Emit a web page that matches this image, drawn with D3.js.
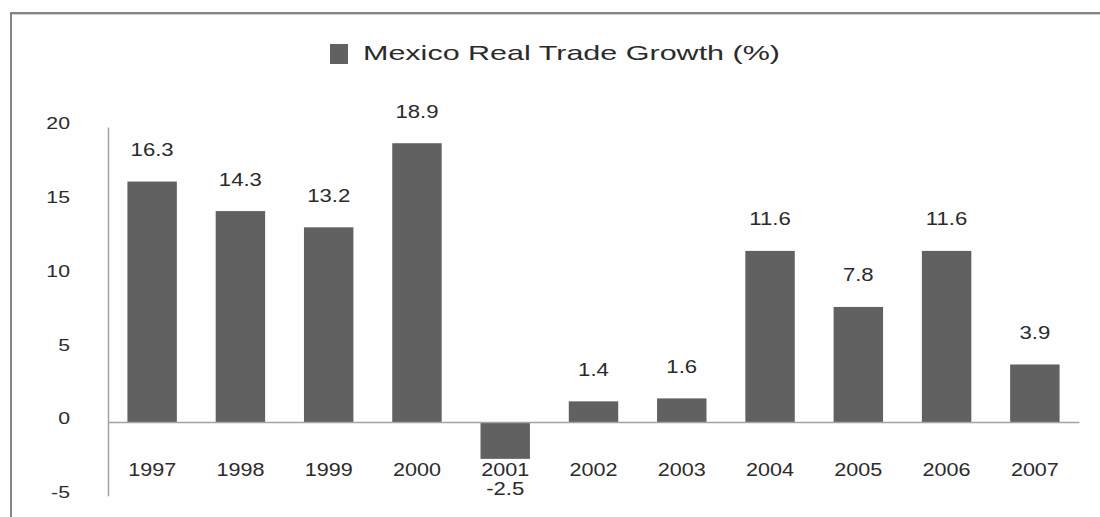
<!DOCTYPE html>
<html>
<head>
<meta charset="utf-8">
<script src="https://cdn.jsdelivr.net/npm/d3@7"></script>
<style>
  html, body { margin: 0; padding: 0; background: #fefefe; }
  svg { display: block; }
  text { font-family: "Liberation Sans", Arial, sans-serif; fill: #2b2b2b; }
</style>
</head>
<body>
<svg id="chart" width="1100" height="517"></svg>
<script>
// Mexico real trade growth, annual %
const years = ["1997", "1998", "1999", "2000", "2001", "2002", "2003", "2004", "2005", "2006", "2007"];
const growth = [16.3, 14.3, 13.2, 18.9, -2.5, 1.4, 1.6, 11.6, 7.8, 11.6, 3.9];
const yTicks = [-5, 0, 5, 10, 15, 20];
const seriesName = "Mexico Real Trade Growth (%)";

const W = 1100, H = 517;
const barColor = "#616161";
const axisColor = "#a3a3a3";
const textColor = "#2b2b2b";

const svg = d3.select("#chart");

// widen text horizontally to the given factor of its natural width
function stretch(sel, factor) {
  sel.each(function () {
    const len = this.getComputedTextLength();
    d3.select(this).attr("textLength", len * factor).attr("lengthAdjust", "spacingAndGlyphs");
  });
}

// outer frame (top and left edges)
svg.append("line").attr("x1", 10).attr("x2", W).attr("y1", 13).attr("y2", 13)
  .attr("stroke", "#858585").attr("stroke-width", 2);
svg.append("line").attr("x1", 10).attr("x2", W).attr("y1", 14.5).attr("y2", 14.5)
  .attr("stroke", "#d0d0d0").attr("stroke-width", 1);
svg.append("line").attr("x1", 11).attr("x2", 11).attr("y1", 12).attr("y2", H)
  .attr("stroke", "#858585").attr("stroke-width", 2);

const x = d3.scaleBand().domain(years).range([108, 1079]).paddingInner(0.44).paddingOuter(0.22);
const y = d3.scaleLinear().domain([-5, 20]).range([495.75, 127]);

// legend / title
svg.append("rect").attr("x", 330).attr("y", 44).attr("width", 18).attr("height", 20).attr("fill", barColor);
svg.append("text").attr("x", 363).attr("y", 59.5).attr("font-size", 21)
  .attr("textLength", 417).attr("lengthAdjust", "spacingAndGlyphs")
  .attr("fill", "#1c1c1c")
  .text(seriesName);

// bars
svg.append("g").selectAll("rect").data(growth).join("rect")
  .attr("x", (d, i) => x(years[i]))
  .attr("width", x.bandwidth())
  .attr("y", d => y(Math.max(0, d)))
  .attr("height", d => Math.abs(y(d) - y(0)))
  .attr("fill", barColor);

// y axis
const yAxis = svg.append("g").attr("transform", "translate(108,0)")
  .call(d3.axisLeft(y).tickValues(yTicks).tickSize(0).tickSizeOuter(0).tickPadding(38).tickFormat(d => String(d)));
yAxis.select(".domain").attr("stroke", axisColor).attr("stroke-width", 1.5);
yAxis.selectAll("text").attr("font-size", 17).attr("fill", textColor)
  .attr("font-family", "Liberation Sans, Arial, sans-serif")
  .attr("y", -4).attr("dy", "0.35em");
stretch(yAxis.selectAll("text"), 1.25);

// x axis along the zero line
const xAxis = svg.append("g").attr("transform", `translate(0,${y(0)})`)
  .call(d3.axisBottom(x).tickSize(0).tickSizeOuter(0).tickPadding(40.5));
xAxis.select(".domain").attr("stroke", axisColor).attr("stroke-width", 1.5);
xAxis.selectAll("text").attr("font-size", 18.6).attr("fill", textColor)
  .attr("font-family", "Liberation Sans, Arial, sans-serif");
stretch(xAxis.selectAll("text"), 1.16);

// value labels
const labels = svg.append("g").selectAll("text").data(growth).join("text")
  .attr("x", (d, i) => x(years[i]) + x.bandwidth() / 2)
  .attr("y", d => d >= 0 ? y(d) - 25.5 : y(d) + 36)
  .attr("text-anchor", "middle")
  .attr("font-size", 18.6)
  .attr("fill", textColor)
  .text(d => d.toFixed(1));
stretch(labels, 1.19);
</script>
</body>
</html>
